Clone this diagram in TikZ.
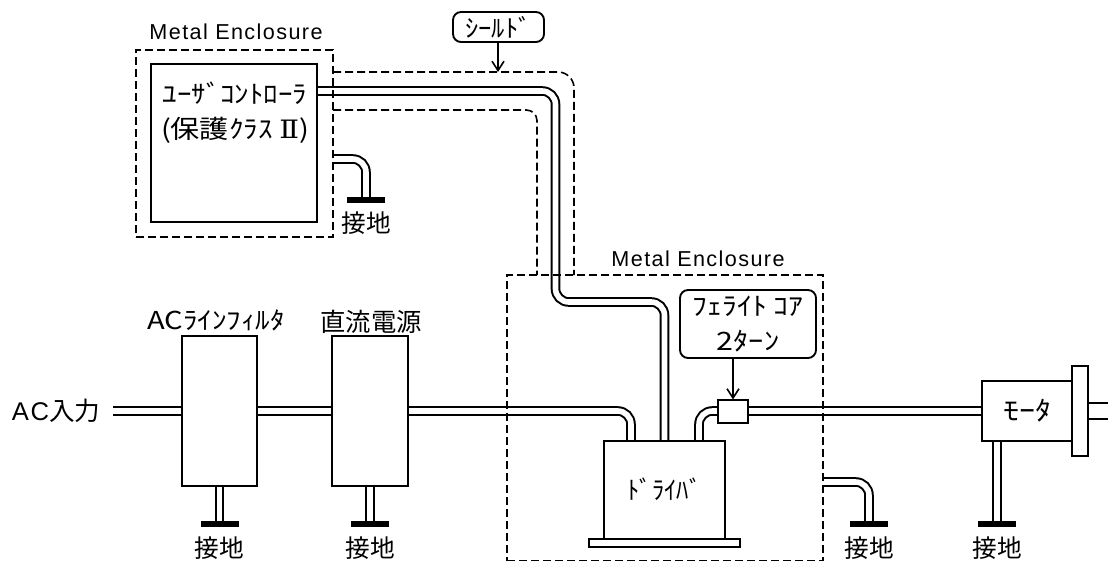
\documentclass[tikz,border=0pt]{standalone}
\usepackage{graphicx}
\usepackage{fontspec}
\setmainfont{Noto Sans CJK JP}
\newfontfamily\latfont[LetterSpace=6.5]{Liberation Sans}
\newfontfamily\romfont{DejaVu Serif}
\usetikzlibrary{arrows.meta,backgrounds}
\newcommand\fz[1]{\fontsize{#1}{26}\selectfont}
\newcommand\hs[2]{\scalebox{#1}[1]{#2}}
\tikzset{
  wh/.style 2 args={minimum width=#1*0.75pt,minimum height=#2*0.75pt},
  boxn/.style={draw=black,fill=white,line width=1.5pt,rectangle,inner sep=0pt,outer sep=0pt,align=center},
  encl/.style={draw=black,line width=1.2pt,dash pattern=on 6pt off 3pt,rectangle,inner sep=0pt,outer sep=0pt},
  wire/.style={draw=black,line width=1.5pt,double=white,double distance=4.2pt,rounded corners=10pt,line cap=butt},
  shield/.style={draw=black,line width=1.2pt,dash pattern=on 6pt off 3pt},
  callout/.style={draw=black,fill=white,line width=1.4pt,rounded corners=6pt,rectangle,inner sep=0pt,outer sep=0pt,align=center},
  pointer/.style={draw=black,line width=1.2pt,-{Straight Barb[length=7pt,width=9pt,line width=1.2pt]}},
  gndbar/.style={fill=black,rectangle,inner sep=0pt,outer sep=0pt,minimum width=28.5pt,minimum height=4.5pt},
  txt/.style={inner sep=0pt,outer sep=0pt,align=center,font=\fz{18.5}},
  lat/.style={inner sep=0pt,outer sep=0pt,font=\fontsize{16.2}{18}\selectfont\latfont},
}
\begin{document}
\begin{tikzpicture}[x=0.75pt,y=-0.75pt]
\useasboundingbox (0,0) rectangle (1108,561);
% free ends and bends
\coordinate (acend) at (113,411);
\coordinate (drvA) at (631,441);
\coordinate (drvB) at (664.5,441);
\coordinate (drvC) at (699,441);
\coordinate (ctlout) at (317,91);
\coordinate (c1) at (555.5,91);
\coordinate (c2) at (555.5,302);
\coordinate (c3) at (664.5,302);
\coordinate (g2start) at (333,159);
\coordinate (g5start) at (823,482);
\coordinate (shaftend) at (1108,411);
% ground bars
\node[gndbar] (gf) at (219.5,524) {};
\node[gndbar] (gp) at (370,524) {};
\node[gndbar] (gc) at (366,200) {};
\node[gndbar] (gd) at (869,524) {};
\node[gndbar] (gm) at (997,524) {};
% boxes
\node[boxn,wh={121}{98},font=\fz{19}] (driver) at (664.5,490) {\raisebox{2pt}{\hs{0.97}{ﾄﾞﾗｲﾊﾞ}}};
\node[boxn,wh={75}{150}] (filter) at (219.5,411) {};
\node[boxn,wh={76}{150}] (power) at (370,411) {};
\node[boxn,wh={30}{23}] (ferrite) at (733,411) {};
\node[boxn,wh={90}{60},font=\fz{20}] (motor) at (1027,411) {\hs{1.2}{ﾓｰﾀ}};
\node[boxn,wh={16}{90}] (flange) at (1080,411) {};
\node[boxn,wh={151}{8}] (base) at (664.5,543) {};
\node[boxn,wh={166}{158}] (ctl) at (234,143) {};
% wires go under the boxes
\begin{scope}[on background layer]
\draw[wire] (acend) -- (filter.west);
\draw[wire] (filter.east) -- (power.west);
\draw[wire] (power.east) -| (drvA);
\draw[wire] (ctlout) -- (c1) -- (c2) -- (c3) -- (drvB);
\draw[wire] (ferrite.west) -| (drvC);
\draw[wire] (ferrite.east) -- (motor.west);
\draw[wire,double distance=10.5pt] (flange.east) -- (shaftend);
\draw[wire] (filter.south) -- (gf.north);
\draw[wire] (power.south) -- (gp.north);
\draw[wire] (motor.south -| gm.north) -- (gm.north);
\draw[wire] (g2start) -| (gc.north);
\draw[wire] (g5start) -| (gd.north);
\end{scope}
% controller text
\node[txt,font=\fz{19}] (ctltxt) at (235,113) {\hs{1.14}{ﾕｰｻﾞｺﾝﾄﾛｰﾗ}\\\hs{1.15}{(保護ｸﾗｽ {\romfont Ⅱ})}};
% enclosures and shield
\node[encl,wh={197}{187}] (enc1) at (234.5,143.5) {};
\node[encl,wh={316}{285.8}] (enc2) at (665,417.9) {};
\coordinate (s1a) at (333,72);
\coordinate (s1b) at (574,72);
\coordinate (s1c) at (574,275);
\coordinate (s2a) at (333,110);
\coordinate (s2b) at (537,110);
\coordinate (s2c) at (537,275);
\draw[shield,rounded corners=12pt] (s1a) -- (s1b) -- (s1c);
\draw[shield,rounded corners=8pt] (s2a) -- (s2b) -- (s2c);
% callouts
\node[callout,wh={91}{30},font=\fz{18.5}] (shcall) at (498.5,27) {\hs{1.08}{ｼｰﾙﾄﾞ}};
\node[callout,wh={136}{68},font=\fz{19}] (fecall) at (748,324) {\hs{1.17}{ﾌｪﾗｲﾄ ｺｱ}\\\hs{1.2}{2ﾀｰﾝ}};
\coordinate (shtip) at (498,72);
\draw[pointer] (shcall.south -| shtip) -- (shtip);
\draw[pointer] (fecall.south -| ferrite.north) -- (ferrite.north);
% labels
\node[lat] (m1) at (236,32) {Metal Enclosure};
\node[lat] (m2) at (698,259) {Metal Enclosure};
\node[txt,font=\fz{19.2}] (acin) at (56,411) {{\latfont AC}入力};
\node[txt,font=\fz{18.5}] (lf) at (216,320) {\hs{1.18}{ACﾗｲﾝﾌｨﾙﾀ}};
\node[txt,font=\fz{19}] (lp) at (371,322) {直流電源};
\node[txt] (l1) at (366,223) {接地};
\node[txt] (l2) at (219.5,548) {接地};
\node[txt] (l3) at (370,548) {接地};
\node[txt] (l4) at (869,548) {接地};
\node[txt] (l5) at (997,548) {接地};
\end{tikzpicture}
\end{document}
